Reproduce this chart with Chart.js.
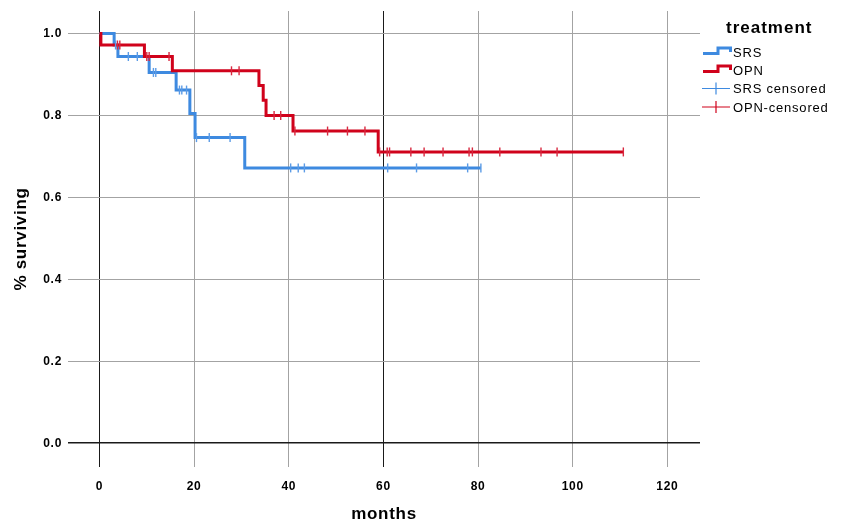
<!DOCTYPE html>
<html>
<head>
<meta charset="utf-8">
<script src="https://cdn.jsdelivr.net/npm/chart.js@4.4.1/dist/chart.umd.min.js"></script>
<style>
  html, body { margin: 0; padding: 0; background: #fff; }
  #wrap { width: 842px; height: 522px; position: relative; }
</style>
</head>
<body>
<div id="wrap"><canvas id="kmChart"></canvas></div>
<script>
// ===== Datos (Kaplan-Meier) =====
const srsTimes = [0, 3.1, 3.9, 10.5, 16.2, 19.1, 20.2, 30.7, 80.6];
const srsSurv  = [1.0, 0.972, 0.944, 0.905, 0.862, 0.805, 0.746, 0.672, 0.672];
const srsCensored = [3.4, 6.1, 8.0, 11.4, 11.9, 16.9, 17.4, 18.4, 20.5, 23.2, 27.6,
                     40.4, 42.0, 43.3, 60.9, 67.0, 77.8, 80.6];

const opnTimes = [0, 0.3, 9.5, 15.4, 33.7, 34.6, 35.2, 40.9, 58.9, 110.7];
const opnSurv  = [1.0, 0.972, 0.944, 0.909, 0.873, 0.837, 0.800, 0.762, 0.711, 0.711];
const opnCensored = [3.8, 4.3, 10.0, 10.5, 14.7, 27.9, 29.5, 36.9, 38.3, 41.3, 48.2,
                     52.4, 56.1, 59.2, 60.8, 61.3, 65.8, 68.6, 72.6, 78.1, 78.8, 84.6,
                     93.3, 96.7, 110.7];

const xTicks = [0, 20, 40, 60, 80, 100, 120];
const yTicks = [0, 0.2, 0.4, 0.6, 0.8, 1.0];

const legendTitle = 'treatment';
const legendLabels = ['SRS', 'OPN', 'SRS censored', 'OPN-censored'];

const BLUE = '#3e8ae0';
const RED = '#d0021b';
const FONT = "'Liberation Sans', Arial, sans-serif";

// Valor de supervivencia en el tiempo t (escalón)
function survAt(times, surv, t) {
    let s = surv[0];
    for (let i = 0; i < times.length; i++) {
        if (times[i] <= t) s = surv[i];
    }
    return s;
}

function toPoints(times, surv) {
    return times.map((t, i) => ({ x: t, y: surv[i] }));
}

function censorPoints(list, times, surv) {
    return list.map(t => ({ x: t, y: survAt(times, surv, t) }));
}

// Espaciado de letras para los textos de los ejes
const spacingPlugin = {
    id: 'spacing',
    beforeDraw(chart) { chart.ctx.letterSpacing = '0.7px'; },
    afterDraw(chart) { chart.ctx.letterSpacing = '0px'; }
};

// ===== Leyenda dibujada a mano =====
const legendPlugin = {
    id: 'kmLegend',
    afterDraw(chart) {
        const c = chart.ctx;
        c.save();
        c.fillStyle = '#000';
        c.textBaseline = 'alphabetic';
        c.textAlign = 'left';
        c.font = 'bold 17px ' + FONT;
        c.letterSpacing = '1px';
        c.fillText(legendTitle, 726, 33);

        c.font = '13px ' + FONT;
        c.letterSpacing = '0.8px';
        const rows = [57, 75, 93, 111.5];
        const colors = [BLUE, RED, BLUE, RED];
        rows.forEach((y, i) => {
            c.strokeStyle = colors[i];
            if (i < 2) {
                const base = y - 3.5;
                c.lineWidth = 3;
                c.beginPath();
                c.moveTo(703, base);
                c.lineTo(718, base);
                c.lineTo(718, base - 5.5);
                c.lineTo(730.5, base - 5.5);
                c.lineTo(730.5, base - 1.5);
                c.stroke();
            } else {
                const mid = y - 4.5;
                c.lineWidth = 1.2;
                c.beginPath();
                c.moveTo(702, mid);
                c.lineTo(730, mid);
                c.moveTo(716, mid - 6);
                c.lineTo(716, mid + 6);
                c.stroke();
            }
            c.fillText(legendLabels[i], 733, y);
        });
        c.restore();
    }
};

const darkAt = (vals) => (ctx) => vals.includes(ctx.tick && ctx.tick.value) ? '#1a1a1a' : '#a3a3a3';

const ctxKm = document.getElementById('kmChart').getContext('2d');
const kmChart = new Chart(ctxKm, {
    type: 'line',
    data: {
        datasets: [
            {
                label: 'SRS',
                data: toPoints(srsTimes, srsSurv),
                borderColor: BLUE,
                borderWidth: 3,
                stepped: 'before',
                pointRadius: 0,
                fill: false,
                order: 2
            },
            {
                label: 'OPN',
                data: toPoints(opnTimes, opnSurv),
                borderColor: RED,
                borderWidth: 3,
                stepped: 'before',
                pointRadius: 0,
                fill: false,
                order: 1
            },
            {
                type: 'scatter',
                label: 'SRS censored',
                data: censorPoints(srsCensored, srsTimes, srsSurv),
                pointStyle: 'line',
                rotation: 90,
                radius: 4.5,
                borderColor: '#5b9be6',
                borderWidth: 1.4,
                order: 0
            },
            {
                type: 'scatter',
                label: 'OPN-censored',
                data: censorPoints(opnCensored, opnTimes, opnSurv),
                pointStyle: 'line',
                rotation: 90,
                radius: 4.5,
                borderColor: '#d8283f',
                borderWidth: 1.4,
                order: 0
            }
        ]
    },
    options: {
        responsive: true,
        maintainAspectRatio: false,
        animation: false,
        layout: { padding: { left: 0, right: 142, top: 11, bottom: 0 } },
        plugins: {
            legend: { display: false },
            tooltip: { enabled: false }
        },
        scales: {
            x: {
                type: 'linear',
                min: -6.65,
                max: 126.9,
                afterBuildTicks: (s) => { s.ticks = xTicks.map(v => ({ value: v })); },
                afterFit: (s) => { s.height = 55; s.paddingLeft = 0; s.paddingRight = 0; },
                border: { display: false },
                grid: { color: darkAt([0, 60]), lineWidth: 1, drawTicks: false },
                ticks: {
                    padding: 12,
                    color: '#000',
                    font: { family: FONT, size: 12, weight: 'bold' },
                    maxRotation: 0
                },
                title: {
                    display: true,
                    text: 'months',
                    color: '#000',
                    font: { family: FONT, size: 17, weight: 'bold' },
                    padding: { top: 0, bottom: -3 }
                }
            },
            y: {
                min: -0.058,
                max: 1.055,
                afterBuildTicks: (s) => { s.ticks = yTicks.map(v => ({ value: v })); },
                afterFit: (s) => { s.width = 68; s.paddingTop = 0; s.paddingBottom = 0; },
                border: { display: false },
                grid: { color: darkAt([0]), lineWidth: (ctx) => ctx.tick && ctx.tick.value === 0 ? 1.5 : 1, drawTicks: false },
                ticks: {
                    padding: 6,
                    color: '#000',
                    font: { family: FONT, size: 12, weight: 'bold' },
                    callback: (v) => v.toFixed(1)
                },
                title: {
                    display: true,
                    text: '% surviving',
                    color: '#000',
                    font: { family: FONT, size: 17, weight: 'bold' },
                    padding: { top: 11, bottom: 0 }
                }
            }
        }
    },
    plugins: [spacingPlugin, legendPlugin]
});
</script>
</body>
</html>
